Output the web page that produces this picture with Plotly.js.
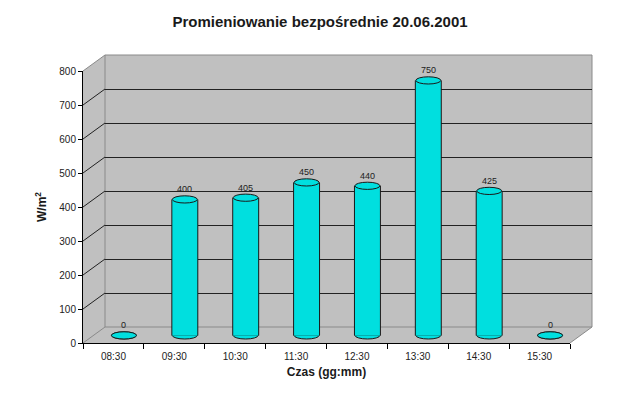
<!DOCTYPE html>
<html>
<head>
<meta charset="utf-8">
<script src="https://cdn.plot.ly/plotly-3.0.1.min.js"></script>
<style>html,body{margin:0;padding:0;background:#fff}#chart{width:640px;height:399px}</style>
</head>
<body>
<div id="chart"></div>
<script>
// ---- data ----
const categories = ['08:30','09:30','10:30','11:30','12:30','13:30','14:30','15:30'];
const values = [0, 400, 405, 450, 440, 750, 425, 0];
const yTicks = [0, 100, 200, 300, 400, 500, 600, 700, 800];
const wallGrid = [100, 200, 300, 400, 500, 600, 700];
const titleText = 'Promieniowanie bezpośrednie 20.06.2001';
const xTitle = 'Czas (gg:mm)';
const yTitle = 'W/m<sup>2</sup>';

// ---- geometry ----
const W = 640, H = 399;
const L = 83, T = 55, R = 592, B = 343;      // paper area in px
const PW = R - L, PH = B - T;
const frontW = 487, frontH = 272;            // front box
const DX = 22, DY = 16;                      // depth offset of back wall
const BX = 10.5, BY = 7.6;                   // offset of bars (mid depth)
const yMax = 800;
const yPad = 20;                             // room below zero for cylinder bottoms
const scale = frontH / yMax;
const catPx = frontW / categories.length;
const barW = 0.41;
const px = x => (x - L) / PW;
const py = y => (B - y) / PH;
const gray = '#c0c0c0';
const cyan = '#00dfdf';
const ink = '#1a1a1a';
const font = 'Arial, "Liberation Sans", sans-serif';

const valToPy = v => B - v * scale;

const shapes = [];
// gray box (side wall + back wall + floor)
const hex = [[L, B - frontH], [L + DX, B - frontH - DY], [R, B - frontH - DY], [R, B - DY], [L + frontW, B], [L, B]];
shapes.push({type: 'path', xref: 'paper', yref: 'paper', layer: 'below',
  path: 'M' + hex.map(p => px(p[0]) + ',' + py(p[1])).join('L') + 'Z',
  fillcolor: gray, line: {width: 0}});
// back wall outline
shapes.push({type: 'rect', xref: 'paper', yref: 'paper', layer: 'below',
  x0: px(L + DX), x1: px(R), y0: py(B - DY), y1: py(B - frontH - DY),
  line: {color: '#8a8a8a', width: 1}});
// side wall diagonals
yTicks.forEach(v => {
  const y = valToPy(v);
  const edge = (v === 0 || v === yMax);
  shapes.push({type: 'line', xref: 'paper', yref: 'paper', layer: 'below',
    x0: px(L), y0: py(y), x1: px(L + DX), y1: py(y - DY),
    line: {color: edge ? '#8a8a8a' : '#222', width: 1}});
});
// floor right diagonal
shapes.push({type: 'line', xref: 'paper', yref: 'paper', layer: 'below',
  x0: px(L + frontW), y0: py(B), x1: px(R), y1: py(B - DY),
  line: {color: '#8a8a8a', width: 1}});

// cylinder bottoms and tops
values.forEach((v, i) => {
  shapes.push({type: 'circle', xref: 'x3', yref: 'y3', layer: 'below',
    x0: i - barW / 2, x1: i + barW / 2, ysizemode: 'pixel', yanchor: 0, y0: -3.6, y1: 3.6,
    fillcolor: cyan, line: {color: ink, width: 1}});
  shapes.push({type: 'circle', xref: 'x3', yref: 'y3', layer: 'above',
    x0: i - barW / 2, x1: i + barW / 2, ysizemode: 'pixel', yanchor: v, y0: -3.6, y1: 3.6,
    fillcolor: cyan, line: {color: ink, width: 1}});
});

const annotations = values.map((v, i) => ({
  xref: 'x3', yref: 'y3', x: categories[i], y: v, text: String(v),
  showarrow: false, yanchor: 'bottom', yshift: 3,
  font: {family: font, size: 9, color: '#222'}
}));

const traces = [
  {type: 'scatter', x: categories, y: values, mode: 'none', xaxis: 'x', yaxis: 'y', hoverinfo: 'skip', showlegend: false},
  {type: 'scatter', x: categories, y: values, mode: 'none', xaxis: 'x2', yaxis: 'y2', hoverinfo: 'skip', showlegend: false},
  // dark sides of the cylinders
  {type: 'bar', x: categories, y: values, xaxis: 'x3', yaxis: 'y3', width: barW + 2 / catPx,
   marker: {color: ink, line: {width: 0}}, hoverinfo: 'skip', showlegend: false},
  // cylinder bodies
  {type: 'bar', x: categories, y: values, xaxis: 'x3', yaxis: 'y3', width: barW,
   marker: {color: cyan, line: {width: 0}}, hoverinfo: 'skip', showlegend: false}
];

const tickFont = {family: font, size: 10, color: '#222'};
const layout = {
  width: W, height: H,
  margin: {l: L, r: W - R, t: T, b: H - B, pad: 0},
  paper_bgcolor: '#fff', plot_bgcolor: 'rgba(0,0,0,0)',
  showlegend: false, barmode: 'overlay',
  title: {text: '<b>' + titleText + '</b>', x: 0.5, xref: 'container', xanchor: 'center',
    y: 1 - 22 / H, yref: 'container', yanchor: 'middle',
    font: {family: font, size: 15, color: ink}},
  xaxis: {domain: [0, frontW / PW], type: 'category', range: [-0.5, 7.5],
    tickson: 'boundaries', ticks: 'outside', ticklen: 5, tickcolor: '#000',
    showline: true, linecolor: '#000', linewidth: 1, showgrid: false, zeroline: false,
    tickfont: tickFont, ticklabelstandoff: 4, automargin: false,
    title: {text: '<b>' + xTitle + '</b>', font: {family: font, size: 12, color: ink}, standoff: 6}},
  yaxis: {domain: [0, frontH / PH], range: [0, yMax], tickvals: yTicks, ticks: 'outside', ticklen: 4,
    tickcolor: '#000', showline: true, linecolor: '#000', linewidth: 1, showgrid: false, zeroline: false,
    tickfont: tickFont, automargin: false,
    title: {text: '<b>' + yTitle + '</b>', font: {family: font, size: 12, color: ink}, standoff: 10}},
  xaxis2: {domain: [DX / PW, 1], type: 'category', range: [-0.5, 7.5], visible: false, anchor: 'y2'},
  yaxis2: {domain: [DY / PH, 1], range: [0, yMax], tickvals: wallGrid, showgrid: true, gridcolor: '#222',
    gridwidth: 1, showticklabels: false, ticks: '', showline: false, zeroline: false, anchor: 'x2'},
  xaxis3: {domain: [BX / PW, (frontW + BX) / PW], type: 'category', range: [-0.5, 7.5], visible: false, anchor: 'y3'},
  yaxis3: {domain: [(BY - yPad * scale) / PH, (frontH + BY) / PH], range: [-yPad, yMax], visible: false, anchor: 'x3'},
  shapes: shapes,
  annotations: annotations
};

Plotly.newPlot('chart', traces, layout, {displayModeBar: false, staticPlot: true});
</script>
</body>
</html>
